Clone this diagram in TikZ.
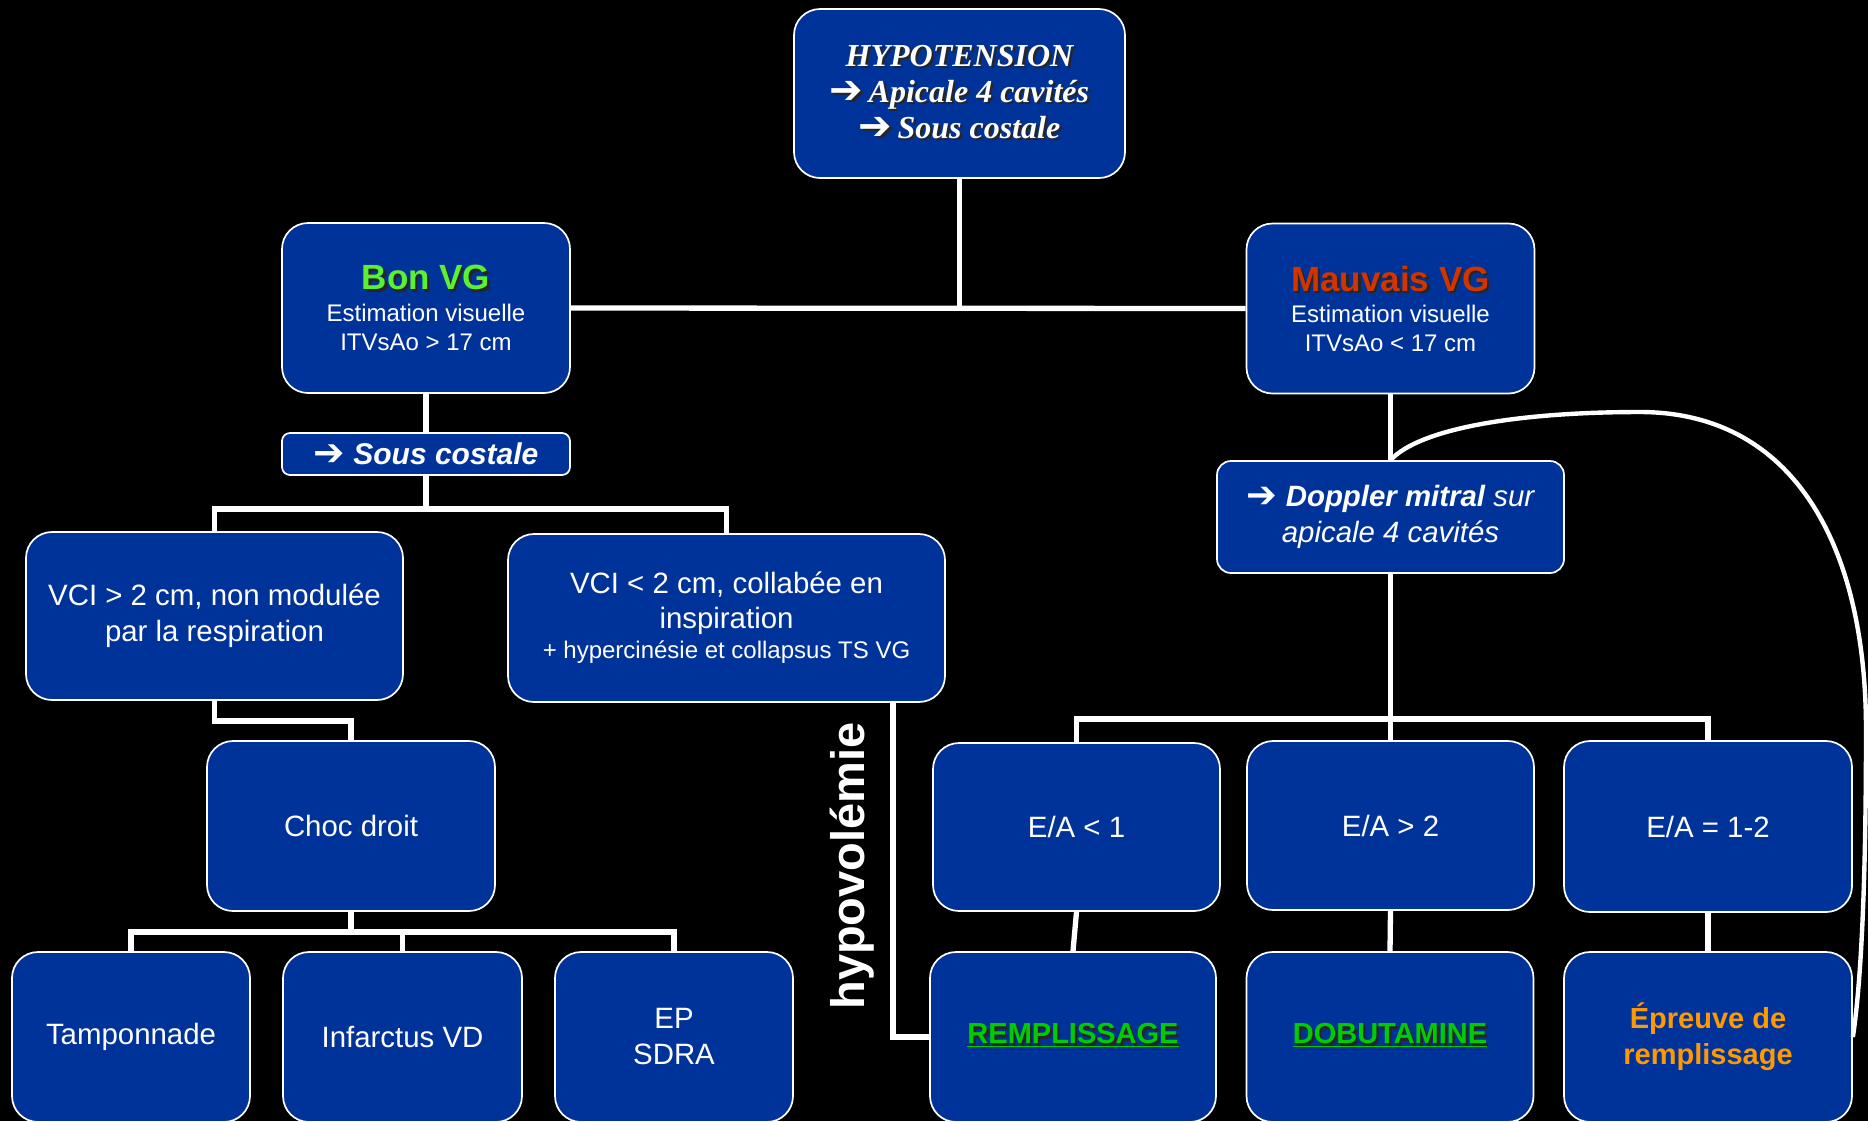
\documentclass[tikz,border=0pt]{standalone}
\usepackage{graphicx}
\usepackage{fontspec}
\setmainfont{Liberation Sans}
\newfontfamily\serifbi{Liberation Serif}
\newfontfamily\arrowfont{DejaVu Sans}

\definecolor{boxblue}{RGB}{0,51,153}
\definecolor{bongreen}{RGB}{92,240,52}
\definecolor{mauvred}{RGB}{210,52,0}
\definecolor{remgreen}{RGB}{0,204,0}
\definecolor{eporange}{RGB}{255,153,0}

\newcommand{\setsize}[2]{\fontsize{#1}{#2}\selectfont}
\newcommand{\hyarrow}{\raisebox{-0.4pt}{\scalebox{1.25}{\arrowfont\bfseries\upshape ➔}}}
\newcommand{\shadowed}[2]{%
\makebox[0pt][l]{\kern1.2pt\raisebox{-1.2pt}{\color{black!85}#2}}{\color{#1}#2}%
}

\begin{document}
\begin{tikzpicture}[x=0.5pt, y=-0.5pt,
	box/.style={draw=white, line width=0.85pt, fill=boxblue, rounded corners=13pt,
		text=white, align=center, inner sep=0pt, font=\setsize{14.7}{18}},
	link/.style={draw=white, line width=2.65pt},
	backloop/.style={draw=white, line width=2.2pt}]

	\fill[black] (0,0) rectangle (1868,1121);
	\useasboundingbox (0,0) rectangle (1868,1121);

	% top
	\node[box, minimum width=165.5pt, minimum height=84.5pt, font=\serifbi\bfseries\itshape\setsize{16}{18}] (hypo) at (959.5,93.5)
		{\shadowed{white}{HYPOTENSION}\\ \shadowed{white}{\hyarrow\,Apicale 4 cavités}\\ \shadowed{white}{\hyarrow\,Sous costale}};

	\node[box, minimum width=144pt, minimum height=85pt, font=\setsize{12}{14.5}] (bon) at (426,308)
		{\shadowed{bongreen}{\setsize{17.5}{20}\bfseries Bon VG}\\[1.5pt] Estimation visuelle\\ ITVsAo > 17 cm};
	\node[box, minimum width=144pt, minimum height=85pt, font=\setsize{12}{14.5}] (mauv) at (1390.5,308.5)
		{\shadowed{mauvred}{\setsize{17.5}{20}\bfseries Mauvais VG}\\[1pt] Estimation visuelle\\ ITVsAo < 17 cm};

	% left branch
	\node[box, rounded corners=4pt, minimum width=144pt, minimum height=21pt, font=\setsize{15}{18}\bfseries\itshape] (sous) at (426,454)
		{\hyarrow\ Sous costale};
	\node[box, minimum width=188.5pt, minimum height=84pt] (vcia) at (214.5,616)
		{VCI > 2 cm, non modulée\\ par la respiration};
	\node[box, minimum width=218.5pt, minimum height=84pt] (vcib) at (726.5,618)
		{VCI < 2 cm, collabée en\\[-0.5pt] inspiration\\[-3pt] {\setsize{12}{14}+ hypercinésie et collapsus TS VG}};
	\node[box, minimum width=144pt, minimum height=85pt] (choc) at (351,826) {Choc droit};
	\node[box, minimum width=119pt, minimum height=85pt] (tamp) at (131,1037) {Tamponnade};
	\node[box, minimum width=119.5pt, minimum height=85pt] (inf) at (402.5,1037) {Infarctus VD};
	\node[box, minimum width=119pt, minimum height=85pt] (ep) at (674,1037) {EP\\ SDRA};

	% right branch
	\node[box, rounded corners=7pt, minimum width=173.5pt, minimum height=56pt, font=\setsize{14.7}{18}\itshape] (dop) at (1390.5,517)
		{\hyarrow\ \textbf{Doppler mitral} sur\\ apicale 4 cavités};
	\node[box, minimum width=143.5pt, minimum height=84pt] (ea1) at (1076.5,827) {E/A < 1};
	\node[box, minimum width=143.5pt, minimum height=84.5pt] (ea2) at (1390.5,825.5) {E/A > 2};
	\node[box, minimum width=144pt, minimum height=85.5pt] (ea3) at (1708,826.5) {E/A = 1-2};
	\node[box, minimum width=143pt, minimum height=85pt, font=\setsize{14.5}{18}\bfseries] (remp) at (1073,1037)
		{\shadowed{remgreen}{\underline{REMPLISSAGE}}};
	\node[box, minimum width=143.5pt, minimum height=85pt, font=\setsize{14.5}{18}\bfseries] (dob) at (1390,1037)
		{\shadowed{remgreen}{\underline{DOBUTAMINE}}};
	\node[box, minimum width=144pt, minimum height=85pt, text=eporange, font=\setsize{14.5}{18}\bfseries] (epr) at (1708,1037)
		{Épreuve de\\ remplissage};

	\node[rotate=90, text=white, inner sep=0pt, font=\setsize{23.5}{28}\bfseries] (hypovol) at (852,866) {hypovolémie};

	% junctions
	\coordinate (jtop) at (hypo.south |- bon.east);
	\coordinate (jsous) at (426,509);
	\coordinate (jchoc) at (351,932);
	\coordinate (jdop) at (1390.5,719);

	\draw[link] (hypo.south) -- (jtop);
	\draw[link] (bon.east) -- (mauv.west);
	\draw[link] (bon.south) -- (sous.north);
	\draw[link] (sous.south) -- (jsous);
	\draw[link] (vcia.north) |- (jsous) -| (vcib.north);
	\draw[link] (vcia.south) -- ++(0,20) -| (choc.north);
	\draw[link] (choc.south) -- (jchoc);
	\draw[link] (tamp.north) |- (jchoc) -| (ep.north);
	\draw[link] (inf.north) -- (inf.north |- jchoc);
	\draw[link] ([xshift=-26.5pt]vcib.south east) |- (remp.west);

	\draw[link] (mauv.south) -- (dop.north);
	\draw[link] (dop.south) -- (jdop);
	\draw[link] (ea1.north) |- (jdop) -| (ea3.north);
	\draw[link] (jdop) -- (ea2.north);
	\foreach \a/\b in {ea1/remp, ea2/dob, ea3/epr}
		\draw[link] (\a.south) -- (\b.north);
		; %end for

	\draw[backloop] (dop.north) .. controls (1420,428) and (1520,412) .. (1640,412)
		.. controls (1790,412) and (1866,540) .. (1866,730)
		.. controls (1866,900) and (1860,990) .. (epr.east);

\end{tikzpicture}
\end{document}
